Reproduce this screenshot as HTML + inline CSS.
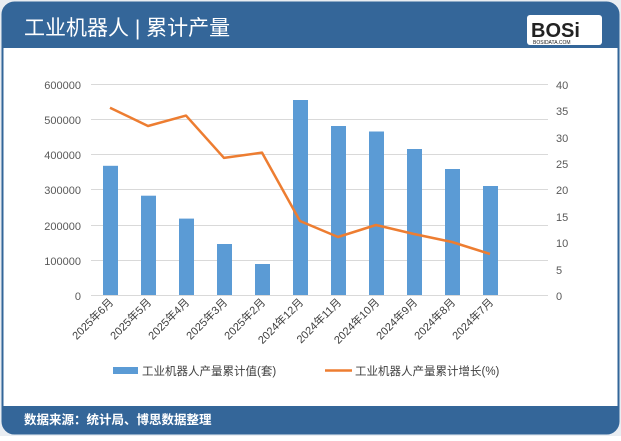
<!DOCTYPE html>
<html><head><meta charset="utf-8"><style>
html,body{margin:0;padding:0;background:#fff;}
body{width:621px;height:436px;overflow:hidden;font-family:"Liberation Sans","Noto Sans CJK SC",sans-serif;}
</style></head><body>
<svg width="621" height="436" xmlns="http://www.w3.org/2000/svg" font-family="Liberation Sans, Noto Sans CJK SC, sans-serif">
<rect x="0" y="0" width="621" height="436" fill="#e9edf2"/>
<rect x="2.5" y="2.5" width="616" height="431" rx="12" fill="#fff" stroke="#336699" stroke-width="2"/>
<path d="M2.5 48 V15 Q2.5 2.5 15 2.5 H606 Q618.5 2.5 618.5 15 V48 Z" fill="#346699"/>
<text x="24" y="35" font-size="21" fill="#fff">工业机器人 | 累计产量</text>
<rect x="527" y="15" width="75" height="30" rx="3" fill="#fff"/>
<text x="531" y="37" font-size="20" font-weight="bold" fill="#222">BOSi</text>
<text x="533" y="44" font-size="5" fill="#222">BOSIDATA.COM</text>
<path d="M2.5 406 H618.5 V421 Q618.5 433.5 606 433.5 H15 Q2.5 433.5 2.5 421 Z" fill="#346699"/>
<text x="24" y="424" font-size="12.5" font-weight="bold" fill="#fff">数据来源：统计局、博思数据整理</text>
<g stroke="#d9d9d9" stroke-width="1">
<line x1="91" y1="84.5" x2="548" y2="84.5"/><line x1="91" y1="119.5" x2="548" y2="119.5"/>
<line x1="91" y1="154.5" x2="548" y2="154.5"/><line x1="91" y1="189.5" x2="548" y2="189.5"/>
<line x1="91" y1="225.5" x2="548" y2="225.5"/><line x1="91" y1="260.5" x2="548" y2="260.5"/>
<line x1="91" y1="295.5" x2="548" y2="295.5"/>
</g>
<g font-size="11" fill="#595959" text-anchor="end">
<text x="81" y="89">600000</text><text x="81" y="124">500000</text><text x="81" y="159">400000</text>
<text x="81" y="194">300000</text><text x="81" y="230">200000</text><text x="81" y="265">100000</text><text x="81" y="300">0</text>
</g>
<g font-size="11" fill="#595959">
<text x="556" y="89">40</text><text x="556" y="115">35</text><text x="556" y="142">30</text><text x="556" y="168">25</text>
<text x="556" y="194">20</text><text x="556" y="221">15</text><text x="556" y="247">10</text><text x="556" y="274">5</text><text x="556" y="300">0</text>
</g>
<g fill="#5b9bd5">
<rect x="103" y="165.8" width="15" height="129.2"/>
<rect x="141" y="195.7" width="15" height="99.3"/>
<rect x="179" y="218.6" width="15" height="76.4"/>
<rect x="217" y="244" width="15" height="51"/>
<rect x="255" y="264" width="15" height="31"/>
<rect x="293" y="100" width="15" height="195"/>
<rect x="331" y="126" width="15" height="169"/>
<rect x="369" y="131.5" width="15" height="163.5"/>
<rect x="407" y="149" width="15" height="146"/>
<rect x="445" y="169" width="15" height="126"/>
<rect x="483" y="186" width="15" height="109"/>
</g>
<polyline fill="none" stroke="#ed7d31" stroke-width="2.5" stroke-linejoin="round" points="110,107.7 148,126 186,115.6 224,157.9 262,152.6 300,221 338,237 376,225 414,234 452,242 490,254"/>
<g font-size="11" fill="#404040" text-anchor="end">
<text transform="translate(114,303) rotate(-45)">2025年6月</text>
<text transform="translate(152,303) rotate(-45)">2025年5月</text>
<text transform="translate(190,303) rotate(-45)">2025年4月</text>
<text transform="translate(228,303) rotate(-45)">2025年3月</text>
<text transform="translate(266,303) rotate(-45)">2025年2月</text>
<text transform="translate(304,303) rotate(-45)">2024年12月</text>
<text transform="translate(342,303) rotate(-45)">2024年11月</text>
<text transform="translate(380,303) rotate(-45)">2024年10月</text>
<text transform="translate(418,303) rotate(-45)">2024年9月</text>
<text transform="translate(456,303) rotate(-45)">2024年8月</text>
<text transform="translate(494,303) rotate(-45)">2024年7月</text>
</g>
<rect x="113" y="367" width="25" height="7" fill="#5b9bd5"/>
<text x="142" y="375" font-size="11.5" fill="#404040">工业机器人产量累计值(套)</text>
<line x1="325" y1="370.5" x2="352" y2="370.5" stroke="#ed7d31" stroke-width="2.5"/>
<text x="355" y="375" font-size="11.5" fill="#404040">工业机器人产量累计增长(%)</text>
</svg>
</body></html>
